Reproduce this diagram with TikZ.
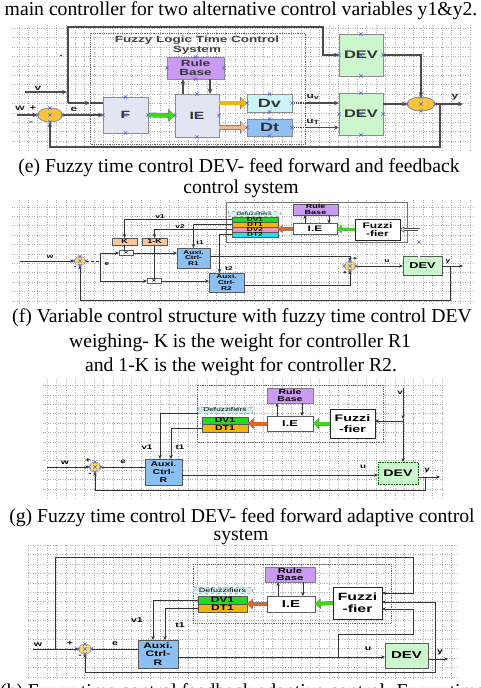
\documentclass[tikz,border=0pt]{standalone}
\usepackage{fontspec}
\setmainfont{Liberation Serif}
\newfontfamily\dg[FakeStretch=1.5]{Liberation Sans}
\usetikzlibrary{arrows.meta,calc,shapes.geometric}
\definecolor{sumY}{HTML}{F7C43A}
\definecolor{boxG}{HTML}{E2E5F2}
\definecolor{rbP}{HTML}{C99BF2}
\definecolor{dvC}{HTML}{CDF4F8}
\definecolor{dtB}{HTML}{8FC1F2}
\definecolor{devG}{HTML}{CCF6CC}
\definecolor{arG}{HTML}{3BDB1A}
\definecolor{arY}{HTML}{F2B705}
\definecolor{arP}{HTML}{F2B88E}
\definecolor{arO}{HTML}{E8631C}
\definecolor{cDVa}{HTML}{1EDC1E}
\definecolor{cDTa}{HTML}{F5B505}
\definecolor{cDVb}{HTML}{EE94C4}
\definecolor{cDTb}{HTML}{20E2EA}
\definecolor{defC}{HTML}{D2F2F2}
\definecolor{kO}{HTML}{F8C69A}
\definecolor{auxB}{HTML}{8DC0F2}
\definecolor{gridc}{HTML}{B0B0B0}
\definecolor{xmB}{HTML}{4A5FE0}
\newcommand{\dgf}[2]{\dg\bfseries\fontsize{#1}{#2}\selectfont}
\newcommand{\xmk}[1]{\draw[xmark] ([shift={(-1.6,-1.6)}]#1) -- ([shift={(1.6,1.6)}]#1) ([shift={(-1.6,1.6)}]#1) -- ([shift={(1.6,-1.6)}]#1);}
\newcommand{\xmarks}[1]{\foreach \xanc in {north,south,east,west,center}{\xmk{#1.\xanc}}}
\newcommand{\xmarkse}[1]{\foreach \xanc in {north,south,east,west}{\xmk{#1.\xanc}}}
\tikzset{
  every node/.style={inner sep=0pt, outer sep=0pt},
  gridln/.style={draw=gridc, dotted, line width=0.45pt},
  xmark/.style={draw=xmB, line width=0.6pt},
  capt/.style={font=\fontsize{19.7}{24}\selectfont, anchor=base},
  eb/.style={draw=black!45, line width=1pt, align=center, text=black!80},
  fb/.style={draw=black!65, line width=0.6pt, align=center},
  sumE/.style={ellipse, draw=black!45, fill=sumY, line width=0.8pt},
  sumS/.style={ellipse, draw=black!40, fill=sumY!70, line width=0.5pt},
  lnE/.style={draw=black!70, line width=1.1pt},
  arE/.style={lnE, -{Stealth[length=5pt,width=4.5pt]}},
  ln/.style={draw=black!80, line width=0.6pt},
  ar/.style={ln, -{Stealth[length=4pt,width=3.4pt]}},
  frm/.style={draw=black!60, densely dotted, line width=0.8pt},
  fatE/.style={draw=#1, line width=3.6pt, -{Triangle[length=6pt,width=11pt]}, preaction={draw=black!50, line width=4.8pt, -{Triangle[length=7pt,width=12.8pt]}}},
  fatF/.style={draw=#1, line width=2.4pt, -{Triangle[length=4pt,width=7pt]}, preaction={draw=black!50, line width=3.2pt, -{Triangle[length=4.7pt,width=8.2pt]}}},
  fatG/.style={draw=#1, line width=3pt, -{Triangle[length=5pt,width=9pt]}, preaction={draw=black!50, line width=4pt, -{Triangle[length=5.8pt,width=10.4pt]}}},
  labE/.style={font=\dgf{8}{8}, text=black!85},
  labF/.style={font=\dgf{5.5}{6}},
  labG/.style={font=\dgf{6.5}{7}},
  labH/.style={font=\dgf{7}{7}},
}
\begin{document}
\begin{tikzpicture}[x=1pt,y=-1pt]
\useasboundingbox (0,0) rectangle (480,688);
\fill[white] (0,0) rectangle (480,688);

% ---------------- grids
\draw[gridln, step=9.4pt] (12,25) grid (470,150);
\draw[gridln, step=9.4pt] (12,200) grid (473,303);
\draw[gridln, step=9.4pt] (43,380) grid (443,498);
\draw[gridln, step=9.4pt] (28,545) grid (457,678);

% ---------------- captions
\node[capt] (cap0) at (241,16) {main controller for two alternative control variables y1\&y2.};
\node[capt] (cap1) at (239,172) {(e) Fuzzy time control DEV- feed forward and feedback};
\node[capt] (cap2) at (241,193) {control system};
\node[capt] (cap3) at (242,322) {(f) Variable control structure with fuzzy time control DEV};
\node[capt] (cap4) at (240,347) {weighing- K is the weight for controller R1};
\node[capt] (cap5) at (241,371) {and 1-K is the weight for controller R2.};
\node[capt] (cap6) at (242,522) {(g) Fuzzy time control DEV- feed forward adaptive control};
\node[capt] (cap7) at (241,540) {system};
\node[capt, anchor=base west] (cap8) at (0,697) {(h) Fuzzy time control feedback adaptive control. Fuzzy time};

% ================= panel (e)
\draw[frm] (90,33) rectangle (305,144);
\node[font=\dgf{9}{9.5}, align=center, text=black!75] (eTitle) at (197,45) {Fuzzy Logic Time Control\\System};
\node[eb, fill=boxG, minimum width=45, minimum height=36, font=\dgf{10.5}{11}] (eF) at (125.5,115) {F};
\node[eb, fill=boxG, minimum width=44, minimum height=43, font=\dgf{10.5}{11}] (eIE) at (197,115.5) {IE};
\node[eb, fill=rbP, minimum width=57, minimum height=22, font=\dgf{9}{9}] (eRB) at (195.5,68) {Rule\\Base};
\node[eb, fill=dvC, minimum width=45, minimum height=18, font=\dgf{12}{12}] (eDv) at (269.5,103) {Dv};
\node[eb, fill=dtB, minimum width=45, minimum height=17, font=\dgf{12}{12}] (eDt) at (269.5,127.5) {Dt};
\node[eb, fill=devG, minimum width=44, minimum height=42, font=\dgf{11}{11}] (eDEV1) at (361,55) {DEV};
\node[eb, fill=devG, minimum width=44, minimum height=42, font=\dgf{11}{11}] (eDEV2) at (361,114) {DEV};
\node[sumE, minimum width=25, minimum height=14] (eS1) at (50,115) {};
\node[sumE, minimum width=28, minimum height=14] (eS2) at (421,104) {};

\coordinate (eJ) at (68,103);
\coordinate (eTop) at (68,27);
\coordinate (eTR) at (323,27);
\coordinate (eVin) at (25,92);
\coordinate (eVj) at (67,92);
\coordinate (eFa) at (90,103);
\coordinate (eWin) at (17,115);
\coordinate (eUv) at (305,103);
\coordinate (eUt) at (305,127.5);
\coordinate (eYout) at (463,104);
\coordinate (eFb) at (440,104);
\coordinate (eFb2) at (440,147);

\draw[arE] (eJ) -- (eTop) -- (eTR) |- (eDEV1.west);
\draw[arE] (eVin) -- (eVj);
\draw[arE] (eJ) -- (eFa);
\draw[lnE] (eFa) -- (eF.west |- eFa);
\draw[arE] (eWin) -- (eS1.west);
\draw[arE] (eS1.east) -- (eF.west);
\draw[fatE=arG] (eF.east) -- (eIE.west);
\draw[arE] ([xshift=-14]eIE.north) -- ([xshift=-14]eIE.north |- eRB.south);
\draw[arE] ([xshift=13]eIE.north |- eRB.south) -- ([xshift=13]eIE.north);
\draw[fatE=arY] (eIE.east |- eDv) -- (eDv.west);
\draw[fatE=arP] (eIE.east |- eDt) -- (eDt.west);
\draw[lnE, densely dotted] (eDv.east) -- (eUv);
\draw[arE] (eUv) -- (eDEV2.west |- eUv);
\draw[lnE, densely dotted] (eDt.east) -- (eUt);
\draw[arE] (eUt) -- (eDEV2.west |- eUt);
\draw[arE] (eDEV2.east |- eS2) -- (eS2.west);
\draw[arE] (eDEV1.east) -| (eS2.north);
\draw[arE] (eS2.east) -- (eYout);
\draw[arE] (eFb) -- (eFb2) -| (eS1.south);

\node[labE] (eLv) at (38,88) {v};
\node[labE] (eLw) at (20,108) {w};
\node[labE] (eLp) at (33,108) {+};
\node[labE] (eLe) at (74,109) {e};
\node[labE] (eLm) at (31,123) {-};
\node[labE] (eLuv) at (313,97) {u\textsubscript{v}};
\node[labE] (eLut) at (313,122) {u\textsubscript{T}};
\node[labE] (eLy) at (455,97) {y};
\node[labE] (eLdot) at (61,56) {.};

\xmarks{eF} \xmarks{eIE} \xmarkse{eRB} \xmarkse{eDv} \xmarkse{eDt}
\xmarks{eDEV1} \xmarks{eDEV2} \xmarks{eS1} \xmarks{eS2}

% ================= panel (f)
\draw[draw=black!55, line width=0.6pt] (226,202) rectangle (407,242);
\node[fb, fill=rbP, minimum width=45, minimum height=11, font=\dgf{6}{5.5}] (fRB) at (315.5,209.5) {Rule\\Base};
\node[fb, fill=white, minimum width=44, minimum height=11, font=\dgf{8}{8}] (fIE) at (315,229) {I.E};
\node[fb, fill=white, draw=black!85, line width=0.9pt, minimum width=45, minimum height=21, font=\dgf{8}{8.5}] (fFz) at (377.5,229.5) {Fuzzi\\-fier};
\node[fb, fill=defC, draw=black!30, dashed, minimum width=52, minimum height=5, font=\dg\fontsize{4.5}{5}\selectfont] (fDef) at (254,214) {Defuzzifiers};
\node[fb, fill=cDVa, minimum width=46, minimum height=5, font=\dgf{5.5}{5}] (fDV1) at (255,219.5) {DV1};
\node[fb, fill=cDTa, minimum width=46, minimum height=5, font=\dgf{5.5}{5}] (fDT1) at (255,224.5) {DT1};
\node[fb, fill=cDVb, minimum width=46, minimum height=5, font=\dgf{5.5}{5}] (fDV2) at (255,229.5) {DV2};
\node[fb, fill=cDTb, minimum width=46, minimum height=5, font=\dgf{5.5}{5}] (fDT2) at (255,234.5) {DT2};
\node[fb, fill=kO, minimum width=25, minimum height=7, font=\dgf{6}{6}] (fK) at (124.5,241.5) {K};
\node[fb, fill=kO, minimum width=25, minimum height=7, font=\dgf{6}{6}] (f1K) at (154.5,241.5) {1-K};
\node[fb, fill=white, minimum width=14, minimum height=5, font=\dgf{5}{5}] (fM1) at (126,253) {×};
\node[fb, fill=white, minimum width=14, minimum height=5, font=\dgf{5}{5}] (fM2) at (154,281) {×};
\node[fb, fill=auxB, minimum width=33, minimum height=20, font=\dgf{5.5}{5.8}] (fR1) at (193.5,258) {Auxi.\\Ctrl-\\R1};
\node[fb, fill=auxB, minimum width=35, minimum height=19, font=\dgf{5.5}{5.8}] (fR2) at (226.5,282.5) {Auxi.\\Ctrl-\\R2};
\node[sumS, minimum width=12, minimum height=9] (fS1) at (80,261) {};
\node[sumS, minimum width=12, minimum height=9] (fS2) at (350,266) {};
\node[fb, fill=devG, minimum width=39, minimum height=19, font=\dgf{8.5}{8.5}] (fDEV) at (422.5,266) {DEV};

\coordinate (fWin) at (20,261);
\coordinate (fE) at (100,261);
\coordinate (fEt) at (100,253);
\coordinate (fEb) at (100,281);
\coordinate (fYout) at (463,266);
\coordinate (fFb) at (450,266);
\coordinate (fFb2) at (450,300);
\coordinate (fDF) at (419,229.5);

\draw[fatF=arG] (fFz.west) -- (fIE.east);
\draw[fatF=arO] (fIE.west) -- (fDV2.east |- fIE.west);
\draw[ar] ([xshift=-10]fIE.north) -- ([xshift=-10]fIE.north |- fRB.south);
\draw[ar] ([xshift=14]fIE.north |- fRB.south) -- ([xshift=14]fIE.north);
\draw[ar] (fDV1.west) -| (fK.north);
\draw[ar] (fDT1.west) -| (fR1.north);
\draw[ar] (fDV2.west) -| (f1K.north);
\draw[ar] (fDT2.west) -| ([xshift=-7]fR2.north);
\draw[ln] (fK.south) -- (fK.south |- fM1.north);
\draw[ln] (f1K.south) -- (f1K.south |- fM2.north);
\draw[ar] (fWin) -- (fS1.west);
\draw[ln, densely dashed] (fS1.east) -- (fE);
\draw[ln] (fEt) -- (fEb);
\draw[ar] (fEt) -- (fM1.west);
\draw[ar] (fM1.east) -- (fR1.west |- fM1.east);
\draw[ar] (fEb) -- (fM2.west);
\draw[ar] (fM2.east) -- (fR2.west |- fM2.east);
\draw[ar] ([yshift=2]fR1.east) -| (fS2.north);
\draw[ar] ([yshift=-2.5]fR2.east) -| (fS2.south);
\draw[ar] (fS2.east) -- (fDEV.west);
\draw[ar] (fDEV.east) -- (fYout);
\draw[ar] (fFb) -- (fFb2) -| (fS1.south);
\draw[draw=black!70, line width=0.5pt, double=white, double distance=1.6pt, -{Triangle[open,length=4pt,width=6pt]}] (fDF |- fDEV.north) -- (fDF) -- (fFz.east);

\node[labF] (fLw) at (50,257) {w};
\node[labF] (fLm) at (75,268) {-};
\node[labF] (fLe) at (107,264) {e};
\node[labF] (fLv1) at (160,217) {v1};
\node[labF] (fLv2) at (180,226.5) {v2};
\node[labF] (fLt1) at (200,243) {t1};
\node[labF] (fLt2) at (229,269) {t2};
\node[labF] (fLu) at (387,261.5) {u};
\node[labF] (fLy) at (448,262) {y};
\node[labF] (fLp1) at (355,259) {+};
\node[labF] (fLp2) at (345,273) {+};
\xmarks{fS1} \xmarks{fS2}
\coordinate (fXm) at (419,242);
\xmk{fXm}

% ================= panel (g)
\draw[frm] (197,385) rectangle (383,442);
\node[fb, fill=rbP, draw=black!50, minimum width=46, minimum height=15, font=\dgf{7}{6.5}] (gRB) at (290,395.5) {Rule\\Base};
\node[fb, fill=white, minimum width=46, minimum height=15, font=\dgf{8.5}{9}] (gIE) at (290,423.5) {I.E};
\node[fb, fill=white, draw=black!85, line width=0.9pt, minimum width=45, minimum height=29, font=\dgf{9.5}{11}] (gFz) at (352.5,423.5) {Fuzzi\\-fier};
\node[fb, fill=defC, draw=black!30, dashed, minimum width=54, minimum height=6, font=\dg\fontsize{5.5}{6}\selectfont] (gDef) at (225,410) {Defuzzifiers};
\node[fb, fill=cDVa, minimum width=46, minimum height=7, font=\dgf{7}{7}] (gDV1) at (225,420.5) {DV1};
\node[fb, fill=cDTa, minimum width=46, minimum height=8, font=\dgf{7}{7}] (gDT1) at (225,428) {DT1};
\node[fb, fill=auxB, minimum width=37, minimum height=26, font=\dgf{7}{7.8}] (gAux) at (163.5,472) {Auxi.\\Ctrl-\\R};
\node[sumS, minimum width=12, minimum height=10] (gS) at (95,467) {};
\node[fb, fill=devG, draw=green!40!black, densely dotted, line width=0.8pt, minimum width=40, minimum height=22, font=\dgf{9.5}{10}] (gDEV) at (398,473) {DEV};

\coordinate (gWin) at (47,467);
\coordinate (gYout) at (440,477);
\coordinate (gFb) at (425,477);
\coordinate (gFb2) at (425,490);
\coordinate (gVtop) at (403,388);
\coordinate (gVbr) at (403,421);
\coordinate (gVmid) at (403,419);

\draw[fatG=arG] (gFz.west) -- (gIE.east);
\draw[fatG=arO] (gIE.west) -- (gDV1.east |- gIE.west);
\draw[ar] ([xshift=-13]gIE.north) -- ([xshift=-13]gIE.north |- gRB.south);
\draw[ar] ([xshift=12]gIE.north |- gRB.south) -- ([xshift=12]gIE.north);
\draw[ar] ([yshift=-3]gDef.west) -| ([xshift=-3.5]gAux.north);
\draw[ar] (gDT1.west) -| ([xshift=7.5]gAux.north);
\draw[ar] (gWin) -- (gS.west);
\draw[ln] (gS.east) -- (gAux.west |- gS.east);
\draw[ar] ([yshift=-3]gAux.east) -- ([yshift=-2]gDEV.west);
\draw[ar] ([yshift=-4]gDEV.east) -- (gYout);
\draw[ar] (gFb) -- (gFb2) -| (gS.south);
\draw[ar] (gVtop) -- (gVmid);
\draw[ar] (gVmid) -- (gVmid |- gDEV.north);
\draw[ar] (gVbr) -- (gFz.east |- gVbr);

\node[labG] (gLv) at (400,393) {v};
\node[labG] (gLv1) at (147,447) {v1};
\node[labG] (gLt1) at (180,447) {t1};
\node[labG] (gLw) at (65,463) {w};
\node[labG] (gLp) at (88,461) {+};
\node[labG] (gLm) at (90,474) {-};
\node[labG] (gLe) at (123,462) {e};
\node[labG] (gLu) at (363,467) {u};
\node[labG] (gLy) at (427,470) {y};
\xmarks{gS}

% ================= panel (h)
\draw[frm] (193,564) rectangle (391,623);
\node[fb, fill=rbP, draw=black!50, minimum width=50, minimum height=15, font=\dgf{7.5}{7}] (hRB) at (290,574.5) {Rule\\Base};
\node[fb, fill=white, minimum width=48, minimum height=16, font=\dgf{10}{10}] (hIE) at (291,604) {I.E};
\node[fb, fill=white, draw=black!85, line width=0.9pt, minimum width=49, minimum height=32, font=\dgf{10.5}{12}] (hFz) at (357.5,603) {Fuzzi\\-fier};
\node[fb, fill=defC, draw=black!30, dashed, minimum width=59, minimum height=6, font=\dg\fontsize{6}{6}\selectfont] (hDef) at (222.5,590) {Defuzzifiers};
\node[fb, fill=cDVa, minimum width=49, minimum height=8, font=\dgf{8}{8}] (hDV1) at (222.5,600) {DV1};
\node[fb, fill=cDTa, minimum width=49, minimum height=8, font=\dgf{8}{8}] (hDT1) at (222.5,608) {DT1};
\node[fb, fill=auxB, minimum width=40, minimum height=28, font=\dgf{8}{8.5}] (hAux) at (158,654) {Auxi.\\Ctrl-\\R};
\node[sumS, minimum width=13, minimum height=10] (hS) at (85,649) {};
\node[fb, fill=devG, minimum width=43, minimum height=25, font=\dgf{10}{10}] (hDEV) at (406.5,655.5) {DEV};

\coordinate (hWin) at (33,649);
\coordinate (hL1) at (55,649);
\coordinate (hL2) at (55,557);
\coordinate (hL3) at (413,557);
\coordinate (hL4) at (413,593);
\coordinate (hU) at (338,657);
\coordinate (hU2) at (338,634);
\coordinate (hU3) at (413,634);
\coordinate (hU4) at (413,609);
\coordinate (hY) at (435,659);
\coordinate (hYout) at (448,659);
\coordinate (hY2) at (435,602);
\coordinate (hY3) at (435,672);

\draw[fatG=arG] (hFz.west) -- (hIE.east);
\draw[fatG=arO] (hIE.west) -- (hDV1.east |- hIE.west);
\draw[ar] ([xshift=-13]hIE.north) -- ([xshift=-13]hIE.north |- hRB.south);
\draw[ar] ([xshift=12]hIE.north |- hRB.south) -- ([xshift=12]hIE.north);
\draw[ar] (hDV1.west) -| ([xshift=-5]hAux.north);
\draw[ar] (hDT1.west) -| ([xshift=7]hAux.north);
\draw[ar] (hWin) -- (hS.west);
\draw[ar] (hL1) -- (hL2) -- (hL3) -- (hL4) -- (hFz.east |- hL4);
\draw[ln] (hS.east) -- (hAux.west |- hS.east);
\draw[ln] (hAux.east |- hU) -- (hU);
\draw[ar] (hU) -- (hDEV.west |- hU);
\draw[ar] (hU) -- (hU2) -- (hU3) -- (hU4) -- (hFz.east |- hU4);
\draw[ar] (hDEV.east |- hY) -- (hYout);
\draw[ar] (hY) -- (hY2) -- (hFz.east |- hY2);
\draw[ar] (hY) -- (hY3) -| (hS.south);

\node[labH] (hLw) at (38,645) {w};
\node[labH] (hLp) at (70,643) {+};
\node[labH] (hLm) at (80,656) {-};
\node[labH] (hLe) at (115,644) {e};
\node[labH] (hLv1) at (137,620) {v1};
\node[labH] (hLt1) at (180,625) {t1};
\node[labH] (hLu) at (368,649) {u};
\node[labH] (hLy) at (440,652) {y};
\xmarks{hS}
\end{tikzpicture}
\end{document}
